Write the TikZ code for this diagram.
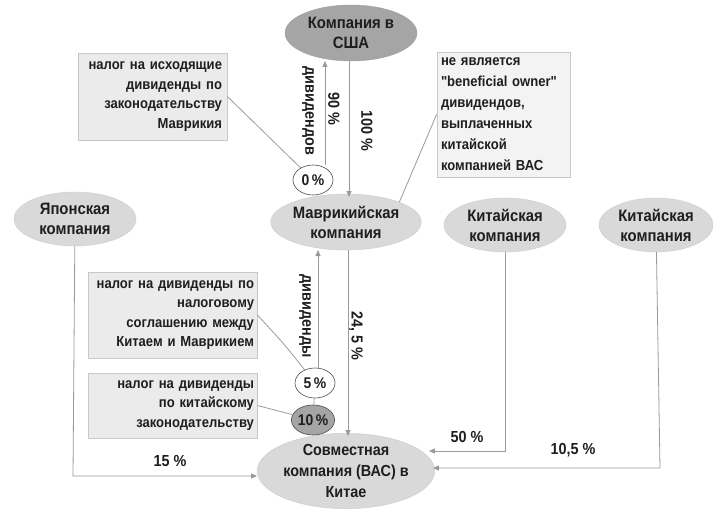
\documentclass[tikz,border=0pt]{standalone}
\usepackage{fontspec}
\setmainfont{Liberation Sans}[FakeStretch=0.9]
\newfontfamily\qfont{Liberation Sans}[FakeStretch=0.9]
\usetikzlibrary{arrows.meta,shapes.geometric}
\definecolor{lin}{HTML}{9A9A9A}
\definecolor{txt}{HTML}{1E1E1E}
\definecolor{ellA}{HTML}{A5A5A5}
\definecolor{ellB}{HTML}{D9D9D9}
\definecolor{boxF}{HTML}{EBEBEB}
\definecolor{boxD}{HTML}{C8C8C8}
\tikzset{
  comp/.style={ellipse, fill=ellB, draw=ellB!85!gray, inner sep=0pt, align=center,
    text=txt, font=\bfseries\fontsize{16.5}{20}\selectfont},
  note/.style={rectangle, fill=boxF, draw=boxD, line width=0.8pt, inner sep=4pt,
    text=txt, font=\bfseries\fontsize{14.5}{19.5}\selectfont},
  pct/.style={ellipse, draw=txt!80, fill=white, line width=0.6pt, inner sep=0pt,
    minimum width=40pt, minimum height=30pt, text=txt, font=\bfseries\fontsize{15.5}{17}\selectfont},
  lbl/.style={text=txt, font=\bfseries\fontsize{16}{18}\selectfont, inner sep=0pt},
  conn/.style={draw=lin, line width=0.8pt},
  arr/.style={conn, -{Triangle[length=6pt,width=5pt,fill=lin]}},
}
\begin{document}
\begin{tikzpicture}[x=1pt,y=-1pt]
\useasboundingbox (0,0) rectangle (713,511);
% companies
\node[comp, fill=ellA, draw=ellA!85!gray, minimum width=132pt, minimum height=56pt] (usa) at (351,33) {Компания в\\США};
\node[comp, minimum width=134pt, minimum height=56pt] (mau) at (346,222) {Маврикийская\\компания};
\node[comp, minimum width=122pt, minimum height=54pt] (jap) at (75,219) {Японская\\компания};
\node[comp, minimum width=122pt, minimum height=54pt] (ch1) at (505,225) {Китайская\\компания};
\node[comp, minimum width=114pt, minimum height=54pt] (ch2) at (656,225) {Китайская\\компания};
\node[comp, minimum width=152pt, minimum height=74pt, font=\bfseries\fontsize{16}{21}\selectfont] (jv) at (346,471) {Совместная\\компания (ВАС) в\\Китае};
% percentage circles
\node[pct] (p0) at (313,180) {0\,\%};
\node[pct] (p5) at (315,383) {5\,\%};
\node[pct, fill=ellA] (p10) at (313,420) {10\,\%};
% notes
\node[note, minimum width=149pt, minimum height=87pt, align=right, text width=139pt] (n1) at (152.5,96.5) {налог на исходящие\\дивиденды по\\законодательству\\Маврикия};
\node[note, minimum width=133pt, minimum height=125pt, align=left, text width=125pt, fill=boxF!60, font=\bfseries\fontsize{14.5}{21}\selectfont] (n2) at (503.5,114.5) {не является\\{\qfont"beneficial owner"}\\дивидендов,\\выплаченных\\китайской\\компанией ВАС};
\node[note, minimum width=169pt, minimum height=86pt, align=right, text width=163pt, inner sep=3pt] (n3) at (172.5,315) {налог на дивиденды по\\налоговому\\соглашению между\\Китаем и Маврикием};
\node[note, minimum width=169pt, minimum height=65pt, align=right, text width=163pt, inner sep=3pt] (n4) at (172.5,405.5) {налог на дивиденды\\по китайскому\\законодательству};
% coordinates
\coordinate (a1) at (325,165);
\coordinate (a2) at (325,61);
\coordinate (b1) at (349,61);
\coordinate (b2) at (349,197);
\coordinate (c1) at (318,368);
\coordinate (c2) at (318,250);
\coordinate (d1) at (348,250);
\coordinate (d2) at (348,436);
\coordinate (j1) at (73,476);
\coordinate (k1) at (505,451);
\coordinate (m1) at (660,468);
% dividend flows
\draw[arr] (a1) -- (a2);
\draw[arr] (b1) -- (b2);
\draw[arr] (c1) -- (c2);
\draw[arr] (d1) -- (d2);
\draw[conn] (p5) -- (p10);
% ownership flows
\draw[arr] (jap) -- (j1) -- (jv.west |- j1);
\draw[arr] (ch1) -- (k1) -- ([xshift=-6pt]jv.east |- k1);
\draw[arr] (ch2) -- (m1) -- ([xshift=-2pt]jv.east |- m1);
% note connectors
\draw[conn] (n1.east) -- (p0);
\draw[conn] (n2.west) -- (mau.north east);
\draw[conn] (n3.east) .. controls (285,345) .. (p5);
\draw[conn] (n4.east) -- (p10);
% rotated labels
\node[lbl, rotate=-90] (l1) at (308,111) {дивидендов};
\node[lbl, rotate=-90] (l2) at (334,109) {90 \%};
\node[lbl, rotate=-90] (l3) at (367,131) {100 \%};
\node[lbl, rotate=-90] (l4) at (305,316) {дивиденды};
\node[lbl, rotate=-90] (l5) at (356,336) {24, 5 \%};
\node[lbl] (l6) at (170,461) {15 \%};
\node[lbl] (l7) at (467,437) {50 \%};
\node[lbl] (l8) at (573,450) {10,5 \%};
\end{tikzpicture}
\end{document}
